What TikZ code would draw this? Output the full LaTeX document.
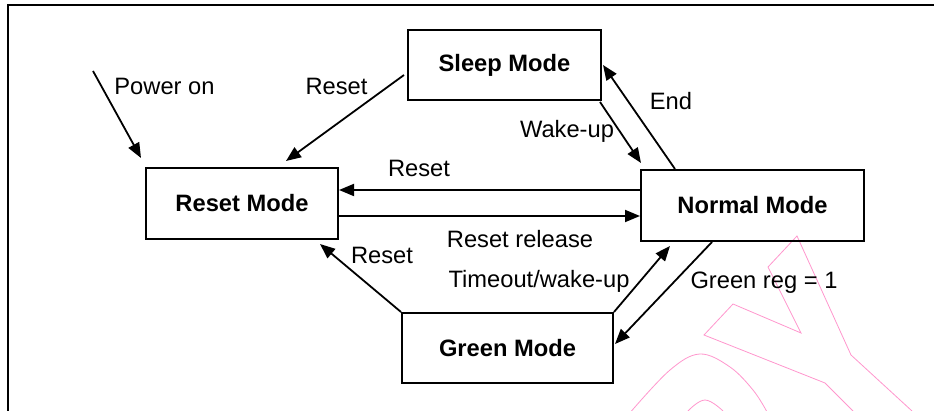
\documentclass[tikz,border=0pt]{standalone}
\usepackage{fontspec}
\setmainfont{Liberation Sans}
\usetikzlibrary{arrows.meta}
\definecolor{wmpink}{RGB}{255,150,205}
\newcommand\diagfont{\fontsize{23.7pt}{28pt}\selectfont}
\tikzset{
  mode/.style={draw, line width=2pt, inner sep=0pt, font=\diagfont\bfseries},
  trans/.style={line width=1.8pt, -{Triangle[length=15pt,width=12pt]}},
  lbl/.style={inner sep=0pt, font=\diagfont},
  mark line/.style={draw=wmpink, line width=0.8pt},
}
\begin{document}
\begin{tikzpicture}[x=1pt, y=-1pt]
\useasboundingbox (0,0) rectangle (934,411);

% faint logo outline in the lower right
\path[mark line] (853,411) -- (825,383) -- (704,335) -- (733,304) -- (801,333)
  -- (768,267) -- (797,236) -- (851,355) -- (912,411);
\path[mark line] plot[smooth, tension=0.6] coordinates
  {(631.5,411) (670,370) (700,354) (730,367) (753,390) (766.5,411)};
\path[mark line] plot[smooth, tension=0.7] coordinates
  {(688,411) (705,400) (723,411)};

% outer frame (top and left edges)
\draw[line width=2pt] (8,411) -- (8,5) -- (934,5);

% states
\node[mode, minimum width=193pt, minimum height=70pt] (sleep)  at (504.5,65)  {Sleep Mode};
\node[mode, minimum width=192pt, minimum height=71pt] (reset)  at (242,203.5) {Reset Mode};
\node[mode, minimum width=223pt, minimum height=71pt] (normal) at (752.5,205.5) {Normal Mode};
\node[mode, minimum width=211pt, minimum height=70pt] (green)  at (507.5,348) {Green Mode};

% power-on entry
\coordinate (pwr) at (93,71);
\draw[trans] (pwr) -- ([shift={(-4,-9)}]reset.north west);

% transitions
\draw[trans] ([shift={(-3,10)}]sleep.west) -- ([shift={(44,-6)}]reset.north);
\draw[trans] ([shift={(-2,1)}]sleep.south east) -- ([shift={(1,-6)}]normal.north west);
\draw[trans] ([shift={(35,0)}]normal.north west) -- ([shift={(1,0)}]sleep.east);
\draw[trans] ([shift={(0,-15.5)}]normal.west) -- ([shift={(0,-13.5)}]reset.east);
\draw[trans] ([shift={(0,12.5)}]reset.east) -- ([shift={(0,10.5)}]normal.west);
\draw[trans] (green.north west) -- ([shift={(-19,4)}]reset.south east);
\draw[trans] (green.north east) -- ([shift={(30,4)}]normal.south west);
\draw[trans] ([shift={(72,0)}]normal.south west) -- ([shift={(1,-4)}]green.east);

% labels
\node[lbl] (lpower)   at (164.5,86) {Power on};
\node[lbl] (lreset1)  at (336.5,86) {Reset};
\node[lbl] (lend)     at (671,101)  {End};
\node[lbl] (lwake)    at (567,131)  {Wake-up};
\node[lbl] (lreset2)  at (419,168)  {Reset};
\node[lbl] (lrelease) at (520,239)  {Reset release};
\node[lbl] (lreset3)  at (382,255)  {Reset};
\node[lbl] (ltimeout) at (539,281)  {Timeout/wake-up};
\node[lbl] (lgreen)   at (764,283)  {Green reg = 1};
\end{tikzpicture}
\end{document}
